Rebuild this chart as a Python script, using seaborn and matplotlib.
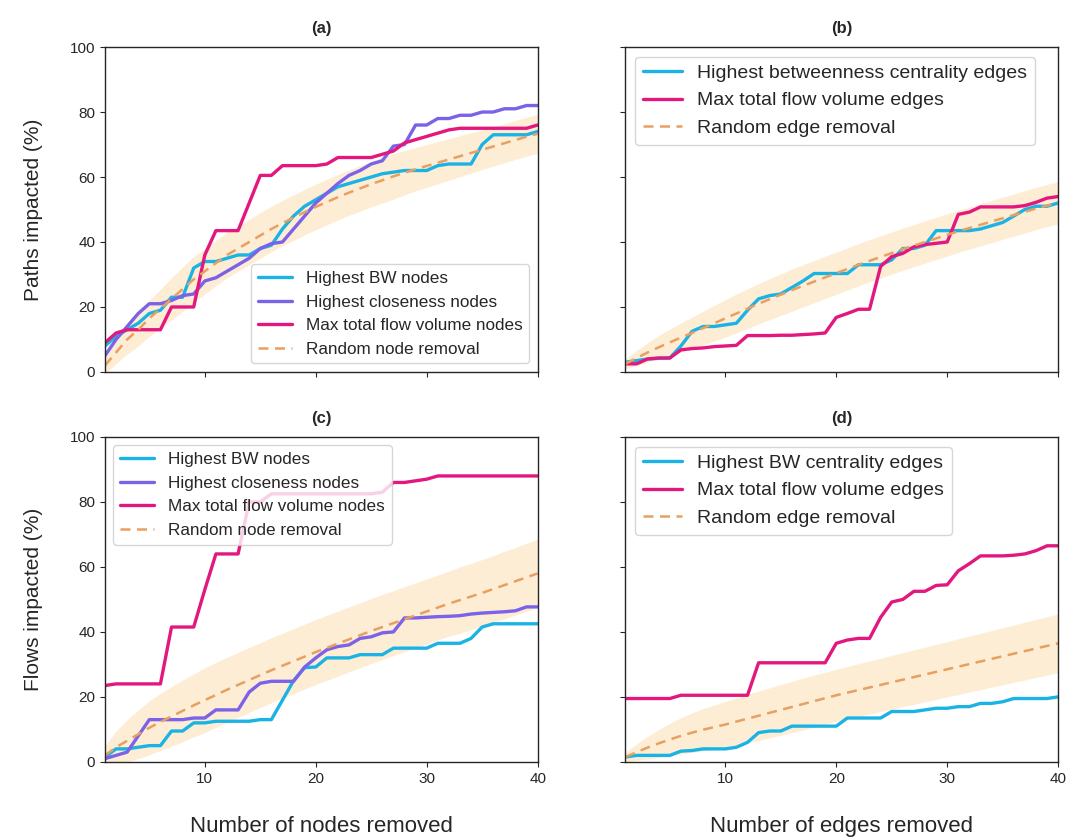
import numpy as np
import pandas as pd
import matplotlib
matplotlib.use("Agg")
import matplotlib.pyplot as plt
import seaborn as sns

sns.set_style("ticks")
plt.rcParams['font.family'] = ['Liberation Sans', 'DejaVu Sans']

# number removed
removed = list(range(1, 41))

# (a) paths impacted, node removal
a_bw = [8, 11, 13, 15, 18, 19, 23, 23, 32, 34, 34, 35, 36, 36, 38, 39, 44, 48, 51, 53,
        55, 57, 58, 59, 60, 61, 61.5, 62, 62, 62, 63.5, 64, 64, 64, 70, 73, 73, 73, 73, 74]
a_close = [5, 10, 14, 18, 21, 21, 22, 23.5, 24, 28, 29, 31, 33, 35, 38, 39.5, 40, 44, 48, 52,
           55, 58, 60.5, 62, 64, 65, 69.5, 70, 76, 76, 78, 78, 79, 79, 80, 80, 81, 81, 82, 82]
a_flow = [9, 12, 13, 13, 13, 13, 20, 20, 20, 36, 43.5, 43.5, 43.5, 52, 60.5, 60.5, 63.5, 63.5, 63.5, 63.5,
          64, 66, 66, 66, 66, 67, 68, 70.5, 71.5, 72.5, 73.5, 74.5, 75, 75, 75, 75, 75, 75, 75, 76]
a_rand = [2, 6, 10, 13, 16.5, 19.5, 22.5, 25.5, 28.5, 31, 33.5, 36, 38, 40, 42, 44, 45.8, 47.5, 49.2, 50.8,
          52.3, 53.8, 55.2, 56.5, 57.8, 59, 60.2, 61.3, 62.4, 63.4, 64.4, 65.4, 66.4, 67.4, 68.4, 69.4, 70.4, 71.4, 72.4, 73.3]
a_spread = [2.5, 3.5, 4.5, 5, 5.5, 6, 6.5, 6.8, 7, 7, 7, 7, 7, 7, 7, 7, 7, 7, 7, 7,
            7, 7, 7, 7, 7, 7, 7, 6.8, 6.7, 6.6, 6.5, 6.4, 6.3, 6.2, 6.1, 6, 6, 6, 6, 6]

# (b) paths impacted, edge removal
b_bw = [3, 3.5, 4, 4.2, 4.3, 8, 12.5, 14, 14, 14.5, 15, 19, 22.5, 23.5, 24, 26, 28, 30.3, 30.3, 30.3,
        30.3, 33, 33, 33, 34.5, 38, 38, 39, 43.5, 43.5, 43.5, 43.5, 44, 45, 46, 48, 50, 51, 51, 52]
b_flow = [2.5, 2.5, 4, 4.3, 4.3, 6.8, 7.2, 7.4, 7.8, 8, 8.2, 11.2, 11.2, 11.2, 11.3, 11.3, 11.5, 11.7, 12, 16.8,
          18, 19.3, 19.3, 32.5, 35.5, 36.5, 38.5, 39.2, 39.6, 40, 48.5, 49.2, 50.8, 50.8, 50.8, 50.8, 51.2, 52.2, 53.5, 54]
b_rand = [2.5, 4.3, 6, 7.6, 9.1, 10.6, 12, 13.5, 15, 16.5, 18, 19.5, 21, 22.4, 23.8, 25.2, 26.5, 27.8, 29.1, 30.4,
          31.7, 33, 34.2, 35.4, 36.6, 37.8, 38.9, 40, 41.1, 42.2, 43.3, 44.3, 45.3, 46.3, 47.3, 48.3, 49.3, 50.3, 51.2, 52.1]
b_spread = [1.5, 2.3, 3, 3.6, 4.1, 4.5, 4.9, 5.2, 5.5, 5.8, 6, 6.1, 6.2, 6.3, 6.4, 6.5, 6.5, 6.5, 6.5, 6.5,
            6.5, 6.5, 6.5, 6.5, 6.5, 6.5, 6.5, 6.5, 6.5, 6.5, 6.5, 6.5, 6.5, 6.5, 6.5, 6.5, 6.5, 6.5, 6.5, 6.5]

# (c) flows impacted, node removal
c_bw = [1.5, 4, 4, 4.5, 5, 5, 9.5, 9.5, 12, 12, 12.5, 12.5, 12.5, 12.5, 13, 13, 19, 25, 29, 29.2,
        32, 32, 32, 33, 33, 33, 35, 35, 35, 35, 36.5, 36.5, 36.5, 38, 41.5, 42.5, 42.5, 42.5, 42.5, 42.5]
c_close = [1, 2, 3, 8, 13, 13, 13, 13, 13.5, 13.5, 16, 16, 16, 21.5, 24.2, 24.8, 24.8, 24.8, 29.2, 32,
           34.5, 35.5, 36, 38, 38.5, 39.7, 40, 44.3, 44.3, 44.5, 44.7, 44.8, 45, 45.5, 45.8, 46, 46.2, 46.5, 47.7, 47.7]
c_flow = [23.5, 24, 24, 24, 24, 24, 41.5, 41.5, 41.5, 53, 64, 64, 64, 80, 80, 82.5, 82.5, 82.5, 82.5, 82.5,
          82.5, 82.5, 82.5, 82.5, 82.5, 83, 86, 86, 86.5, 87, 88, 88, 88, 88, 88, 88, 88, 88, 88, 88]
c_rand = [2, 4.5, 6.5, 8.5, 10.5, 12.3, 14, 15.7, 17.4, 19, 20.6, 22.2, 23.7, 25.2, 26.7, 28.2, 29.6, 31, 32.4, 33.8,
          35.1, 36.4, 37.7, 39, 40.3, 41.5, 42.7, 43.9, 45.1, 46.3, 47.5, 48.7, 49.8, 50.9, 52, 53.2, 54.4, 55.6, 56.8, 58]
c_spread = [3, 5, 6.5, 7.5, 8.3, 8.8, 9.2, 9.5, 9.7, 10, 10, 10, 10, 10, 10, 10, 10, 10, 10, 10,
            10, 10, 10, 10, 10, 10, 10, 10, 10, 10, 10, 10, 10.2, 10.2, 10.3, 10.3, 10.4, 10.4, 10.5, 10.5]

# (d) flows impacted, edge removal
d_bw = [1.5, 2, 2, 2, 2, 3.3, 3.5, 4, 4, 4, 4.5, 6, 9, 9.5, 9.5, 11, 11, 11, 11, 11,
        13.5, 13.5, 13.5, 13.5, 15.5, 15.5, 15.5, 16, 16.5, 16.5, 17, 17, 18, 18, 18.5, 19.5, 19.5, 19.5, 19.5, 20]
d_flow = [19.5, 19.5, 19.5, 19.5, 19.5, 20.5, 20.5, 20.5, 20.5, 20.5, 20.5, 20.5, 30.5, 30.5, 30.5, 30.5, 30.5, 30.5, 30.5, 36.5,
          37.5, 38, 38, 44.5, 49.2, 50, 52.5, 52.5, 54.3, 54.5, 58.8, 61, 63.4, 63.4, 63.4, 63.6, 64, 65, 66.5, 66.5]
d_rand = [1.5, 3, 4.4, 5.7, 6.9, 8, 9, 9.9, 10.7, 11.5, 12.4, 13.3, 14.2, 15.1, 16, 16.9, 17.8, 18.7, 19.6, 20.5,
          21.3, 22.1, 22.9, 23.7, 24.5, 25.3, 26.1, 26.9, 27.7, 28.5, 29.3, 30.1, 30.9, 31.7, 32.5, 33.3, 34.1, 34.9, 35.7, 36.5]
d_spread = [1.5, 2.5, 3.5, 4.3, 5, 5.6, 6.1, 6.5, 6.8, 7.1, 7.3, 7.5, 7.6, 7.7, 7.8, 7.9, 8, 8, 8, 8,
            8.1, 8.1, 8.2, 8.2, 8.3, 8.3, 8.4, 8.4, 8.5, 8.5, 8.6, 8.6, 8.7, 8.7, 8.8, 8.8, 8.9, 8.9, 9, 9]

CYAN = "#1bb3e4"
PURPLE = "#7b62e6"
MAGENTA = "#e3187f"
ORANGE = "#e8a062"
BAND = "#fcdcac"

fig, axes = plt.subplots(2, 2, figsize=(10.71, 8.4), dpi=100, sharex=True, sharey=True)
fig.subplots_adjust(left=0.098, right=0.988, top=0.944, bottom=0.093, wspace=0.203, hspace=0.2)


def draw(ax, series, rand, spread, rand_label, title, legend_loc, legend_size):
    for vals, color, label in series:
        sns.lineplot(x=removed, y=vals, ax=ax, color=color, linewidth=2.4, label=label)
    lo = np.array(rand) - np.array(spread)
    hi = np.array(rand) + np.array(spread)
    ax.fill_between(removed, lo, hi, color=BAND, alpha=0.5, linewidth=0)
    sns.lineplot(x=removed, y=rand, ax=ax, color=ORANGE, linewidth=1.8,
                 linestyle=(0, (4, 2.6)), label=rand_label)
    ax.set_xlim(1, 40)
    ax.set_ylim(0, 100)
    ax.set_title(title, fontsize=12, fontweight="bold", pad=10)
    ax.legend(loc=legend_loc, fontsize=legend_size, handlelength=2.0)
    ax.tick_params(labelsize=11)
    for s in ax.spines.values():
        s.set_linewidth(1.0)


draw(axes[0, 0],
     [(a_bw, CYAN, "Highest BW nodes"),
      (a_close, PURPLE, "Highest closeness nodes"),
      (a_flow, MAGENTA, "Max total flow volume nodes")],
     a_rand, a_spread, "Random node removal", "(a)", "lower right", 12.3)
draw(axes[0, 1],
     [(b_bw, CYAN, "Highest betweenness centrality edges"),
      (b_flow, MAGENTA, "Max total flow volume edges")],
     b_rand, b_spread, "Random edge removal", "(b)", "upper left", 14)
draw(axes[1, 0],
     [(c_bw, CYAN, "Highest BW nodes"),
      (c_close, PURPLE, "Highest closeness nodes"),
      (c_flow, MAGENTA, "Max total flow volume nodes")],
     c_rand, c_spread, "Random node removal", "(c)", "upper left", 12.3)
draw(axes[1, 1],
     [(d_bw, CYAN, "Highest BW centrality edges"),
      (d_flow, MAGENTA, "Max total flow volume edges")],
     d_rand, d_spread, "Random edge removal", "(d)", "upper left", 14)

axes[0, 0].set_xticks([10, 20, 30, 40])
axes[0, 0].set_yticks([0, 20, 40, 60, 80, 100])
axes[0, 0].set_ylabel("Paths impacted (%)", fontsize=15, labelpad=19)
axes[1, 0].set_ylabel("Flows impacted (%)", fontsize=15, labelpad=19)
axes[1, 0].set_xlabel("Number of nodes removed", fontsize=16, labelpad=22)
axes[1, 1].set_xlabel("Number of edges removed", fontsize=16, labelpad=22)

fig.savefig("out.png", dpi=100)
